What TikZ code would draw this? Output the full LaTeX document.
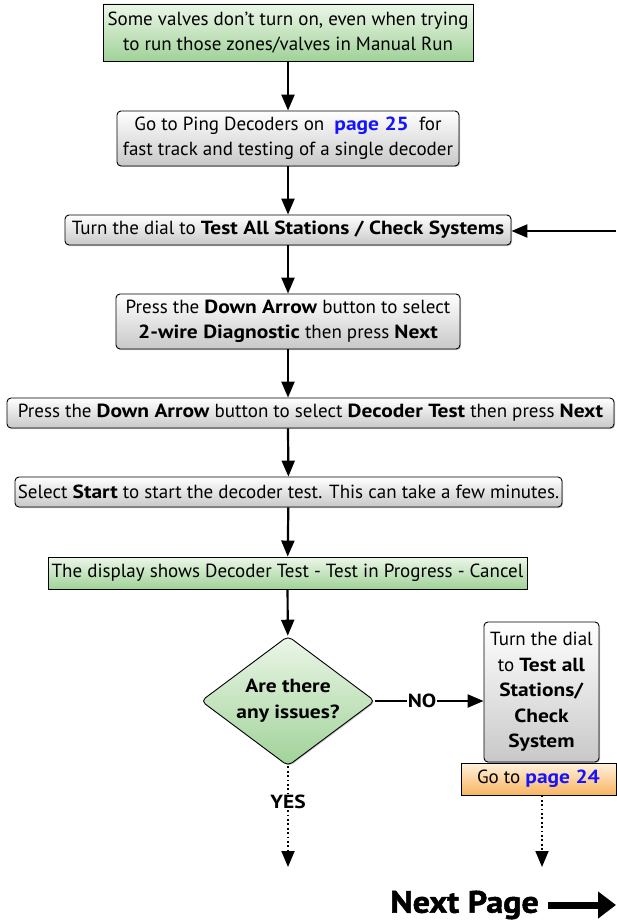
\documentclass[tikz,border=0pt]{standalone}
\usepackage{fontspec}
\setmainfont{PT Sans}[BoldFeatures={FakeStretch=1.13}]
\newfontfamily\heavyfont{PT Sans}[FakeBold=1.6,FakeStretch=1.1]
\usetikzlibrary{arrows.meta,shapes.geometric,shadows}
\definecolor{greenA}{RGB}{236,246,232}
\definecolor{greenB}{RGB}{160,210,152}
\definecolor{orA}{RGB}{255,242,222}
\definecolor{orB}{RGB}{248,180,96}
\definecolor{grayB}{RGB}{200,200,200}
\definecolor{linkblue}{RGB}{20,20,255}
\newcommand{\lnk}[1]{\textcolor{linkblue}{\bfseries #1}}
\tikzset{
  box/.style={draw=black, line width=0.9pt, align=center, inner sep=0pt,
    font=\fontsize{19}{25}\selectfont,
    drop shadow={shadow xshift=1pt, shadow yshift=-1pt, opacity=0.45}},
  gbox/.style={box, rounded corners=4pt, top color=white, bottom color=grayB},
  greenbox/.style={box, top color=greenA, bottom color=greenB},
  orbox/.style={box, top color=orA, bottom color=orB},
  arr/.style={line width=2.2pt, -{Triangle[length=16pt,width=13pt]}},
  dotline/.style={line width=1.8pt, dash pattern=on 1.8pt off 2.6pt},
  darr/.style={dotline, -{Triangle[length=16pt,width=13pt]}},
  lbl/.style={font=\fontsize{19}{22}\selectfont\bfseries, inner sep=1pt}
}
\begin{document}
\begin{tikzpicture}[x=1pt,y=-1pt]
\useasboundingbox[fill=white] (0,0) rectangle (616,920);

\node[greenbox, minimum width=370pt, minimum height=57pt] (b1) at (288,32.5)
  {Some valves don’t turn on, even when trying\\to run those zones/valves in Manual Run};
\node[gbox, minimum width=342pt, minimum height=55pt] (b2) at (288,138.5)
  {Go to Ping Decoders on \ \lnk{page 25} \ for\\fast track and testing of a single decoder};
\node[gbox, minimum width=446pt, minimum height=30pt] (b3) at (288,230)
  {Turn the dial to \textbf{Test All Stations / Check Systems}};
\node[gbox, minimum width=344pt, minimum height=55pt] (b4) at (288,321.5)
  {Press the \textbf{Down Arrow} button to select\\\textbf{2-wire Diagnostic} then press \textbf{Next}};
\node[gbox, minimum width=607pt, minimum height=30pt] (b5) at (310.5,413)
  {Press the \textbf{Down Arrow} button to select \textbf{Decoder Test} then press \textbf{Next}};
\node[gbox, minimum width=547pt, minimum height=30pt] (b6) at (288.5,492)
  {Select \textbf{Start} to start the decoder test. This can take a few minutes.};
\node[greenbox, minimum width=479pt, minimum height=32pt] (b7) at (287.5,573)
  {The display shows Decoder Test - Test in Progress - Cancel};
\node[diamond, shape aspect=1.34, draw=black, line width=0.9pt, top color=greenA, bottom color=greenB,
  rounded corners=5pt, minimum width=174pt, minimum height=130pt, inner sep=0pt,
  align=center, font=\fontsize{19}{26}\selectfont\bfseries,
  drop shadow={shadow xshift=1pt, shadow yshift=-1pt, opacity=0.45}] (d) at (288,701)
  {Are there\\any issues?};
\node[gbox, minimum width=115pt, minimum height=140pt, font=\fontsize{19}{25.5}\selectfont] (r) at (541.5,692)
  {Turn the dial\\to \textbf{Test all}\\\textbf{Stations/}\\\textbf{Check}\\\textbf{System}};
\node[orbox, minimum width=155pt, minimum height=32pt] (o) at (538.5,779)
  {Go to \lnk{page 24}};

\node[lbl] (no) at (422,701) {NO};
\node[lbl] (yes) at (288,802) {YES};
\coordinate (in3) at (616,231);
\coordinate (yend) at (288,867);
\coordinate (oend) at (542,867);

\draw[arr] (b1) -- (b2);
\draw[arr] (b2) -- (b3);
\draw[arr] (in3) -- (b3.east |- in3);
\draw[arr] (b3) -- (b4);
\draw[arr] (b4) -- (b5.north -| b4);
\draw[arr] (b5.south -| b4) -- (b6);
\draw[arr] (b6) -- (b7);
\draw[arr] (b7) -- (d);
\draw[line width=2.2pt] (d.east) -- (no.west);
\draw[arr] (no.east) -- (no.east -| r.west);
\draw[dotline] (d.south) -- (yes.north);
\draw[darr] (yes.south) -- (yend);
\draw[darr] (o.south -| oend) -- (oend);

\node[font=\fontsize{31}{31}\heavyfont\bfseries, anchor=east, inner sep=0pt] (np) at (539,905) {Next Page};
\coordinate (npa) at (548,905);
\coordinate (npb) at (616,905);
\draw[line width=7pt, -{Triangle[length=18pt,width=26pt]}] (npa) -- (npb);
\end{tikzpicture}
\end{document}
